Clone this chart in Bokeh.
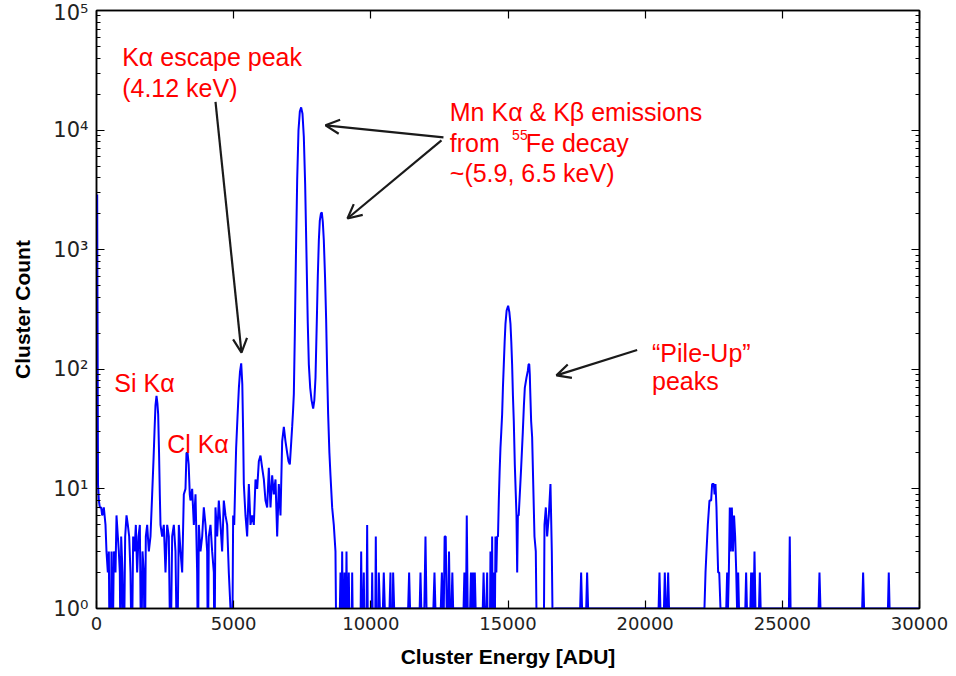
from bokeh.plotting import figure
from bokeh.models import Range1d, FixedTicker, LinearAxis, LogAxis, Label, Arrow, OpenHead
from bokeh.embed import file_html
from bokeh.resources import INLINE

# ---------------- data ----------------
# low-energy noise floor, Si K-alpha and Cl K-alpha
e_low = [25, 55, 85, 122, 170, 207, 267, 328, 364, 413, 450, 480, 510, 547, 583, 632, 693, 729, 778, 814,
         850, 880, 899, 948, 996, 1045, 1094, 1142, 1191, 1239, 1288, 1336, 1385, 1434, 1482, 1531, 1580,
         1628, 1677, 1725, 1760, 1798, 1847, 1908, 1968, 2029,
         2080, 2114, 2150, 2187, 2220, 2248, 2280, 2308, 2333, 2393, 2454, 2515, 2576, 2636, 2697, 2758,
         2819, 2879, 2940, 3001, 3062, 3123, 3183, 3244,
         3280, 3320, 3360, 3400, 3426, 3487, 3548, 3609, 3669, 3700, 3730, 3791, 3852, 3912, 3973, 4034,
         4060, 4094, 4155, 4216, 4277, 4300, 4337, 4398, 4459, 4520, 4580, 4641, 4702, 4763, 4823, 4884, 4945]
n_low = [2900, 11, 8, 7, 7, 6, 7, 5, 3, 2, 3, 0, 0, 3, 0, 3, 2, 6, 4, 3,
         2, 0, 4, 2, 0, 4, 6, 5, 4, 2, 0, 4, 3, 5, 2, 4, 5,
         0, 3, 2, 0, 4, 5, 3, 4, 9,
         18, 30, 50, 60, 52, 42, 20, 9, 5, 4, 5, 2, 5, 4, 0, 4,
         5, 3, 0, 5, 3, 2, 9, 10,
         20, 20, 16, 9, 8, 10, 5, 9, 2, 0, 5, 3, 4, 7, 5, 3,
         0, 4, 5, 3, 2, 0, 7, 4, 8, 5, 3, 8, 6, 5, 2, 1, 0]

# K-alpha escape peak and shoulder below the Mn lines
e_esc = [4981, 5020, 5060, 5090, 5140, 5190, 5230, 5275, 5315, 5345, 5370, 5431, 5492, 5553, 5614, 5674,
         5735, 5796, 5857, 5917, 5978, 6039, 6100, 6160, 6221, 6282, 6343, 6403, 6464, 6525, 6586, 6646,
         6707, 6768, 6829, 6889, 6950, 7000, 7047, 7100, 7132, 7165, 7193]
n_esc = [6, 5, 12, 22, 40, 70, 95, 112, 75, 30, 11, 6, 4, 11, 5, 6,
         5, 12, 10, 17, 19, 15, 12, 8, 7, 15, 7, 13, 9, 12, 4, 11,
         6, 25, 33, 25, 20, 17, 16, 25, 33, 45, 62]

# Mn K-alpha & K-beta (55Fe)
e_mn = [7230, 7270, 7315, 7363, 7412, 7460, 7509, 7557, 7606, 7655, 7700, 7740, 7790, 7840, 7898, 7940,
        7983, 8030, 8067, 8105, 8140, 8180, 8213, 8250, 8286, 8330, 8371, 8410, 8444, 8490, 8529, 8590,
        8650, 8711, 8748]
n_mn = [200, 900, 3800, 10000, 14300, 15500, 13700, 8800, 3500, 900, 250, 110, 70, 55, 47, 55,
        85, 250, 600, 1200, 1750, 2000, 2050, 1700, 1200, 600, 260, 90, 42, 20, 13, 7,
        5, 3, 0]

# sparse region and pile-up peaks
e_pile = [8830, 8894, 8925, 8955, 8990, 9040, 9075, 9113, 9150, 9197, 9240, 9290, 9320, 9360, 9610, 9648,
          9690, 9744, 9780, 9830, 9866, 9900, 10010, 10049, 10090, 10150, 10181, 10220, 10255, 10290,
          10330, 10440, 10472, 10510, 10680, 10716, 10750, 10780, 10813, 10850, 11360, 11396, 11430,
          11780, 11810, 11840, 11950, 11992, 12030, 12280, 12320, 12355, 12550, 12590, 12625, 12660,
          12690, 12730, 12765, 12820, 12850, 12880, 12940, 12971, 13000, 13380, 13410, 13440, 13470,
          13497, 13530, 13620, 13650, 13680, 13720, 13750, 13790, 13820, 14080, 14110, 14140, 14210,
          14240, 14270, 14330, 14361, 14390, 14422, 14450, 14482, 14510, 14543, 14575, 14604, 14635,
          14665, 14695, 14725, 14755, 14786, 14815, 14847, 14878, 14908, 14950, 15005, 15050, 15090,
          15120, 15150, 15180, 15211, 15248, 15284, 15309, 15335, 15360, 15390, 15430, 15479, 15540,
          15580, 15613, 15673, 15722, 15750, 15775, 15795, 15807, 15843, 15880, 15916, 15965, 16013,
          16062, 16300, 16330, 16379, 16427, 16488, 16548, 16597, 16646, 16700]
n_pile = [0, 2, 0, 3, 0, 2, 0, 3, 0, 2, 0, 0, 2, 0, 0, 3,
          0, 2, 0, 0, 5, 0, 0, 2, 0, 0, 4, 0, 0, 2,
          1, 1, 2, 1, 1, 2, 0, 0, 2, 1, 1, 2, 1,
          1, 2, 1, 1, 4, 1, 1, 2, 1, 1, 2, 1, 1,
          4, 4, 1, 1, 3, 1, 1, 2, 1, 1, 2, 1, 1,
          6, 1, 1, 2, 1, 2, 1, 2, 1, 1, 2, 1, 1,
          2, 0, 0, 3, 0, 4, 0, 2, 0, 4, 2, 4, 4,
          8, 14, 22, 30, 42, 70, 110, 170, 240, 310, 340, 300, 240,
          170, 110, 60, 37, 16, 9, 6, 2, 6, 6, 9, 15, 30,
          50, 70, 85, 97, 110, 110, 90, 70, 37, 27, 12, 4, 3,
          0, 0, 5, 7, 4, 6, 11, 3, 0, 1]

# high-energy tail
e_tail = [17630, 17666, 17700, 17850, 17884, 17920, 20490, 20522, 20555, 20685, 20716, 20750, 20805, 20838,
          20870, 22161, 22200, 22235, 22284, 22344, 22405, 22441, 22502, 22530, 22563, 22599, 22624, 22660,
          22700, 22745, 22955, 22988, 23020, 23050, 23085, 23120, 23160, 23200, 23240, 23280, 23320, 23350,
          23390, 23420, 23650, 23680, 23710, 23835, 23863, 23893, 23924, 23955, 23985, 24020, 24150, 24180,
          24210, 25240, 25271, 25300, 26320, 26354, 26390, 27910, 27945, 27980, 28850, 28880, 28910, 30000]
n_tail = [1, 2, 1, 1, 2, 1, 1, 2, 1, 1, 2, 1, 1, 2,
          1, 1, 2, 3, 5, 8, 8, 11, 11, 9, 11, 7, 4, 2,
          2, 1, 1, 2, 1, 2, 7, 3, 7, 3, 6, 4, 2, 1,
          2, 1, 1, 2, 1, 1, 2, 1, 2, 1, 3, 1, 1, 2,
          1, 1, 4, 1, 1, 2, 1, 1, 2, 1, 1, 2, 1, 1]

energy_adu = e_low + e_esc + e_mn + e_pile + e_tail
cluster_count = n_low + n_esc + n_mn + n_pile + n_tail

x_ticks = [0, 5000, 10000, 15000, 20000, 25000, 30000]
y_ticks = [1, 10, 100, 1000, 10000, 100000]
y_tick_labels = ["10\u2070", "10\u00b9", "10\u00b2", "10\u00b3", "10\u2074", "10\u2075"]

# zero counts fall below the log axis (drawn off the bottom of the frame)
count_plot = [c if c > 0 else 0.3 for c in cluster_count]

# ---------------- figure ----------------
p = figure(width=956, height=676, output_backend="svg", toolbar_location=None,
           x_range=Range1d(0, 30000), y_range=Range1d(1, 1e5), y_axis_type="log",
           min_border_left=96, min_border_right=37, min_border_top=10, min_border_bottom=68)
p.grid.visible = False
p.background_fill_color = "white"
p.border_fill_color = "white"
p.outline_line_color = "black"
p.outline_line_width = 1.5

p.line(energy_adu, count_plot, line_color="#0000FF", line_width=2)

xb = p.below[0]
yl = p.left[0]

y_minor = [m * t for t in y_ticks[:-1] for m in range(2, 10)]
xt = FixedTicker(ticks=x_ticks, minor_ticks=[])
yt = FixedTicker(ticks=y_ticks, minor_ticks=y_minor)

xb.ticker = xt
yl.ticker = yt
yl.major_label_overrides = {t: l for t, l in zip(y_ticks, y_tick_labels)}

top = LinearAxis(ticker=xt, major_label_overrides={t: "" for t in x_ticks},
                 major_label_text_font_size="2px", major_label_standoff=0)
right = LogAxis(ticker=yt, major_label_overrides={t: "" for t in y_ticks},
                major_label_text_font_size="2px", major_label_standoff=0)
p.add_layout(top, "above")
p.add_layout(right, "right")

for ax in [xb, yl, top, right]:
    ax.axis_line_color = "black"
    ax.axis_line_width = 1.5
    ax.major_tick_in = 8
    ax.major_tick_out = 0
    ax.minor_tick_in = 4
    ax.minor_tick_out = 0
    ax.major_tick_line_color = "black"
    ax.minor_tick_line_color = "black"
    ax.major_tick_line_width = 1.2
    ax.minor_tick_line_width = 1

xb.major_label_text_font = "DejaVu Sans"
xb.major_label_text_font_size = "18px"
xb.major_label_text_color = "#222222"
xb.major_label_standoff = 8
xb.axis_label = "Cluster Energy [ADU]"
xb.axis_label_text_font = "Liberation Sans"
xb.axis_label_text_font_style = "bold"
xb.axis_label_text_font_size = "21px"
xb.axis_label_text_color = "black"
xb.axis_label_standoff = 12

yl.major_label_text_font = "DejaVu Sans"
yl.major_label_text_font_size = "21px"
yl.major_label_text_color = "#222222"
yl.major_label_standoff = 8
yl.axis_label = "Cluster Count"
yl.axis_label_text_font = "Liberation Sans"
yl.axis_label_text_font_style = "bold"
yl.axis_label_text_font_size = "21px"
yl.axis_label_text_color = "black"
yl.axis_label_standoff = 16

# ---------------- annotations ----------------
RED = "#FF0000"
def note(x, y, text, size="25px"):
    p.add_layout(Label(x=x, y=y, text=text, text_color=RED, text_font="Liberation Sans",
                       text_font_size=size, text_align="left", text_baseline="alphabetic"))

note(936, 40550, "K\u03b1 escape peak")
note(936, 22700, "(4.12 keV)")
note(12878, 14190, "Mn K\u03b1 & K\u03b2 emissions")
note(12878, 7800, "from")
note(15150, 9040, "55", size="14px")
note(15650, 7800, "Fe decay")
note(12878, 4345, "~(5.9, 6.5 keV)")
note(20250, 138, "\u201cPile-Up\u201d")
note(20250, 80, "peaks")
note(650, 77, "Si K\u03b1")
note(2575, 23.7, "Cl K\u03b1")

ARROW = "#1a1a1a"
def arrow(xs, ys, xe, ye):
    p.add_layout(Arrow(end=OpenHead(size=14, line_color=ARROW, line_width=2.2),
                       x_start=xs, y_start=ys, x_end=xe, y_end=ye,
                       line_color=ARROW, line_width=2.2))

arrow(4338, 17200, 5285, 138)
arrow(12648, 8700, 8347, 10960)
arrow(12575, 8210, 9149, 1823)
arrow(19708, 145, 16767, 89)

open("out.html", "w").write(file_html(p, INLINE))
